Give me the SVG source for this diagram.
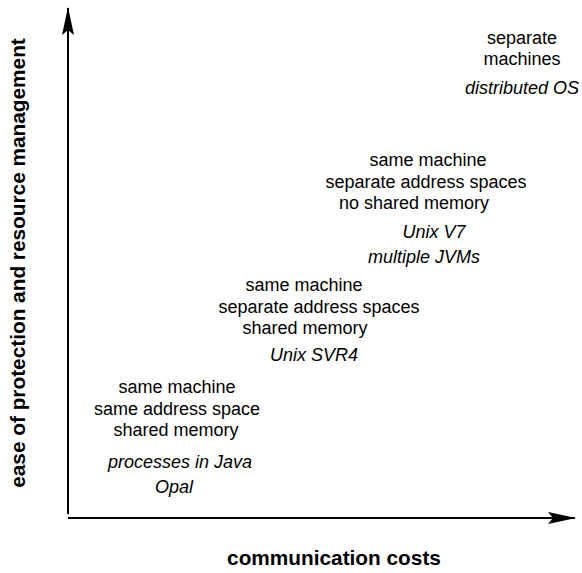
<svg xmlns="http://www.w3.org/2000/svg" width="582" height="573" viewBox="0 0 582 573">
<style>
.t{font-family:"Liberation Sans",Arial,sans-serif;font-size:18px;fill:#000;text-anchor:middle}
.i{font-style:italic}
.b{font-family:"Liberation Sans",Arial,sans-serif;font-size:20.8px;font-weight:bold;fill:#000;text-anchor:middle}
.ax{stroke:#000;stroke-width:2;fill:none}
</style>
<defs>
<marker id="ah" viewBox="0 0 28 12" refX="27" refY="6" markerWidth="28" markerHeight="12" markerUnits="userSpaceOnUse" orient="auto">
<path d="M0,0 L28,6 L0,12 L5,6 Z" fill="#000"/>
</marker>
</defs>
<rect width="582" height="573" fill="#fff"/>
<g id="connectors">
<line class="ax" x1="68" y1="514" x2="68" y2="8" marker-end="url(#ah)"/>
<line class="ax" x1="68" y1="518" x2="575" y2="518" marker-end="url(#ah)"/>
</g>
<g id="x-label"><text class="b" x="334" y="565">communication costs</text></g>
<g id="y-label"><text class="b" transform="translate(25,263) rotate(-90)">ease of protection and resource management</text></g>
<g id="separate-machines">
<text class="t" x="522" y="44">separate</text>
<text class="t" x="522" y="65">machines</text>
<text class="t i" x="522" y="94">distributed OS</text>
</g>
<g id="no-shared-memory">
<text class="t" x="428" y="166">same machine</text>
<text class="t" x="426" y="188">separate address spaces</text>
<text class="t" x="414" y="209">no shared memory</text>
<text class="t i" x="434" y="238">Unix V7</text>
<text class="t i" x="424" y="263">multiple JVMs</text>
</g>
<g id="separate-shared">
<text class="t" x="304" y="291">same machine</text>
<text class="t" x="319" y="313">separate address spaces</text>
<text class="t" x="305" y="334">shared memory</text>
<text class="t i" x="314" y="361">Unix SVR4</text>
</g>
<g id="same-space">
<text class="t" x="177" y="393">same machine</text>
<text class="t" x="177" y="415">same address space</text>
<text class="t" x="176" y="436">shared memory</text>
<text class="t i" x="180" y="468">processes in Java</text>
<text class="t i" x="174" y="493">Opal</text>
</g>
</svg>
